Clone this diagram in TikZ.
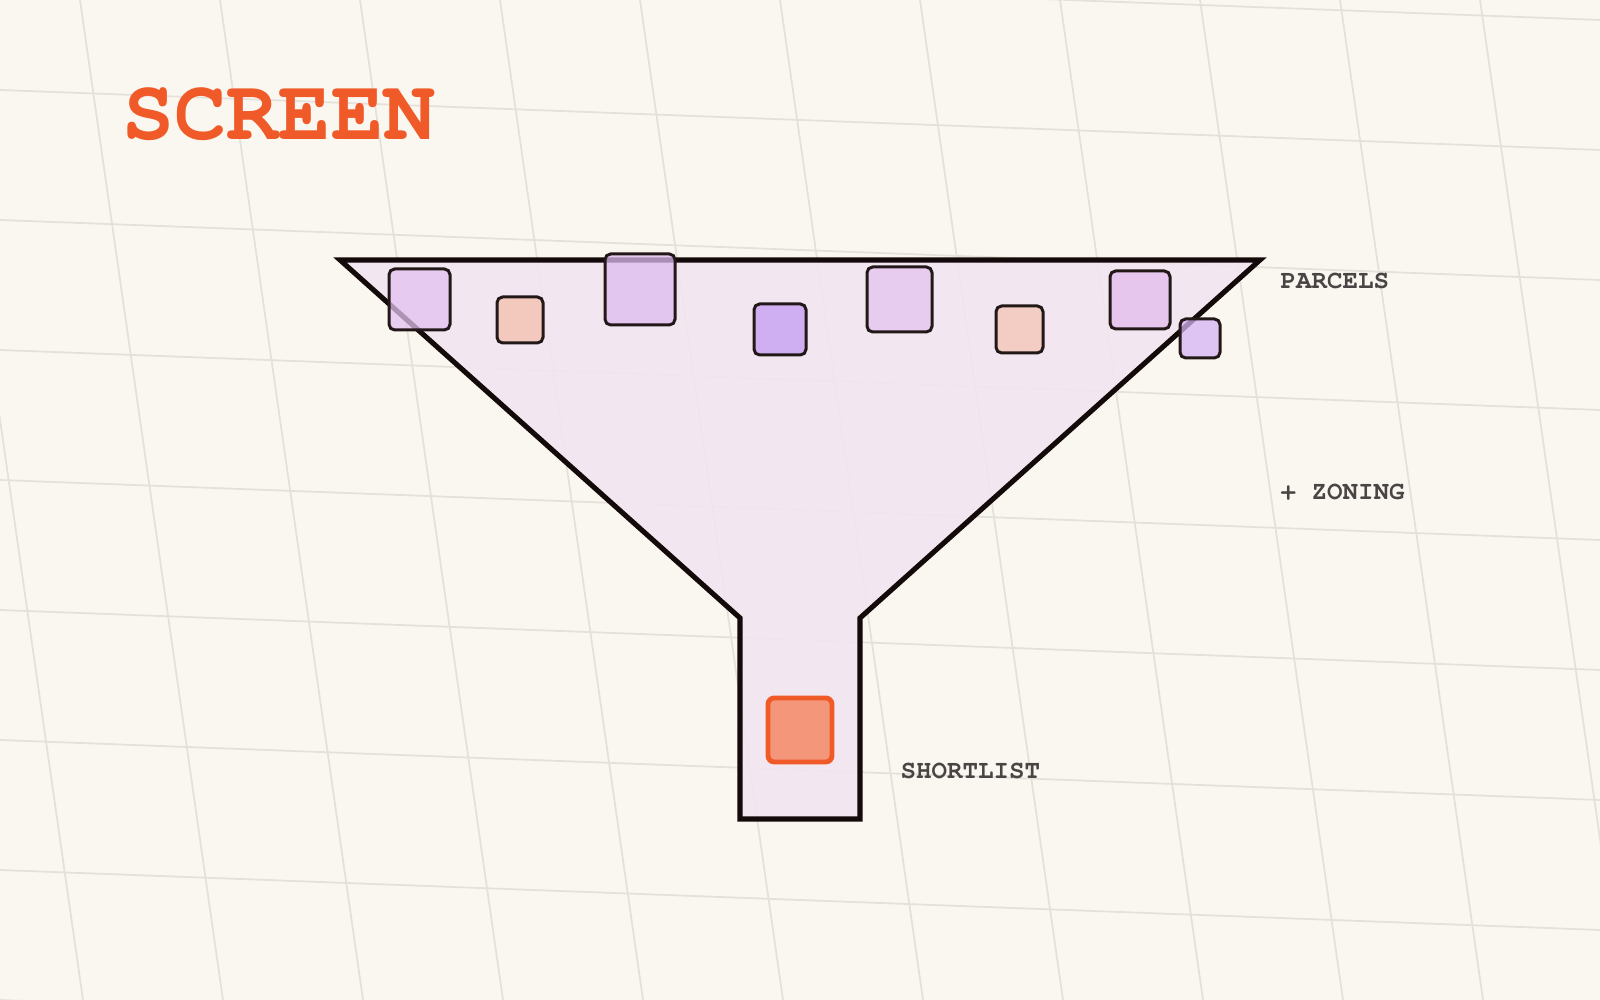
\documentclass[tikz,border=0pt]{standalone}
\usepackage{fontspec}
\newfontfamily\cursorfont{texgyrecursor}[Extension=.otf, UprightFont=*-regular, BoldFont=*-bold]
\usepackage{tikz}
\usetikzlibrary{calc}
\definecolor{paper}{RGB}{250, 247, 240}
\definecolor{gridgrey}{RGB}{228, 225, 219}
\definecolor{funnelfill}{RGB}{242, 229, 240}
\definecolor{ink}{RGB}{20, 10, 10}
\definecolor{boxink}{RGB}{35, 24, 24}
\definecolor{screenorange}{RGB}{240, 90, 40}
\definecolor{labelgrey}{RGB}{74, 68, 68}
\definecolor{lilacA}{RGB}{226, 193, 239}
\definecolor{salmonA}{RGB}{246, 191, 173}
\definecolor{lilacB}{RGB}{222, 187, 240}
\definecolor{violetA}{RGB}{196, 157, 244}
\definecolor{lilacC}{RGB}{228, 195, 239}
\definecolor{salmonB}{RGB}{244, 195, 181}
\definecolor{lilacD}{RGB}{226, 188, 237}
\definecolor{violetB}{RGB}{212, 179, 244}
\definecolor{pickfill}{RGB}{244, 150, 122}
\tikzset{gridline/.style={gridgrey, line width=0.5pt},
  parcel/.style={draw=boxink, line width=0.85pt, rounded corners=1.6pt, fill opacity=0.75},
  tag/.style={inner sep=0pt, anchor=base west, text=labelgrey, font=\cursorfont\bfseries\fontsize{7.35}{8}\selectfont}}

\begin{document}
\begin{tikzpicture}[scale=1]
\fill[paper] (0, 0) rectangle (16, 10);
\useasboundingbox (0, 0) rectangle (16, 10);

\begin{scope}
\clip (0, 0) rectangle (16, 10);
% slanted grid
\draw[gridline] (-2.00, 10) -- (-0.57, 0);
\draw[gridline] (-0.60, 10) -- (0.83, 0);
\draw[gridline] (0.80, 10) -- (2.23, 0);
\draw[gridline] (2.20, 10) -- (3.63, 0);
\draw[gridline] (3.60, 10) -- (5.03, 0);
\draw[gridline] (5.00, 10) -- (6.43, 0);
\draw[gridline] (6.40, 10) -- (7.83, 0);
\draw[gridline] (7.80, 10) -- (9.23, 0);
\draw[gridline] (9.20, 10) -- (10.63, 0);
\draw[gridline] (10.60, 10) -- (12.03, 0);
\draw[gridline] (12.00, 10) -- (13.43, 0);
\draw[gridline] (13.40, 10) -- (14.83, 0);
\draw[gridline] (14.80, 10) -- (16.23, 0);

\draw[gridline] (0, 10.40) -- (16, 9.80);
\draw[gridline] (0, 9.10) -- (16, 8.50);
\draw[gridline] (0, 7.80) -- (16, 7.20);
\draw[gridline] (0, 6.50) -- (16, 5.90);
\draw[gridline] (0, 5.20) -- (16, 4.60);
\draw[gridline] (0, 3.90) -- (16, 3.30);
\draw[gridline] (0, 2.60) -- (16, 2.00);
\draw[gridline] (0, 1.30) -- (16, 0.70);
\draw[gridline] (0, 0.00) -- (16, -0.60);
\end{scope}

% the funnel
\filldraw[fill=funnelfill, fill opacity=0.88, draw=ink, line width=1.45pt, line join=miter]
  (3.40, 7.40) -- (12.60, 7.40) -- (8.60, 3.82) -- (8.60, 1.81)
  -- (7.40, 1.81) -- (7.40, 3.82) -- cycle;

% parcels in the mouth
\filldraw[parcel, fill=lilacA] (3.89, 7.31) rectangle (4.50, 6.70);
\filldraw[parcel, fill=salmonA] (4.97, 7.03) rectangle (5.43, 6.57);
\filldraw[parcel, fill=lilacB] (6.05, 7.46) rectangle (6.75, 6.75);
\filldraw[parcel, fill=violetA] (7.54, 6.96) rectangle (8.06, 6.45);
\filldraw[parcel, fill=lilacC] (8.67, 7.33) rectangle (9.32, 6.68);
\filldraw[parcel, fill=salmonB] (9.96, 6.94) rectangle (10.43, 6.47);
\filldraw[parcel, fill=lilacD] (11.10, 7.29) rectangle (11.70, 6.71);
\filldraw[parcel, fill=violetB] (11.80, 6.81) rectangle (12.20, 6.42);

% what comes out
\filldraw[fill=pickfill, draw=screenorange, line width=1.4pt, rounded corners=1.8pt]
  (7.68, 3.02) rectangle (8.32, 2.38);

\node[inner sep=0pt, anchor=base west, text=screenorange,
  font=\cursorfont\bfseries\fontsize{24.7}{26}\selectfont] (title) at (1.22, 8.60) {SCREEN};
\node[tag] (parcels) at (12.80, 7.11) {PARCELS};
\node[tag] (zoning) at (12.80, 5.00) {+ ZONING};
\node[tag] (shortlist) at (9.00, 2.21) {SHORTLIST};

\end{tikzpicture}
\end{document}
